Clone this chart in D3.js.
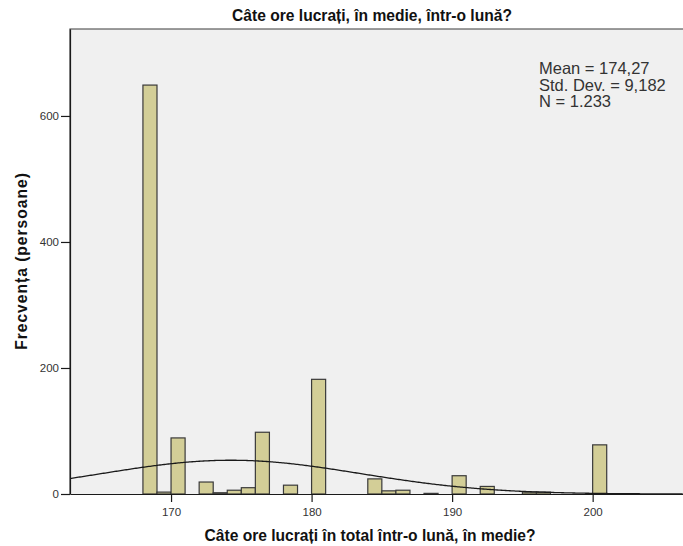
<!DOCTYPE html>
<html>
<head>
<meta charset="utf-8">
<script src="https://cdn.jsdelivr.net/npm/d3@7"></script>
<style>
  html, body { margin: 0; padding: 0; background: #ffffff; }
  svg { display: block; font-family: "Liberation Sans", Arial, sans-serif; }
</style>
</head>
<body>
<svg id="chart" width="683" height="546"></svg>
<script>
// Histogram bins: lower edge of each 1-hour bin and the number of people in it
const binStarts = [168, 169, 170, 172, 173, 174, 175, 176, 178, 180, 184, 185, 186, 188, 190, 192, 195, 196, 200];
const binCounts = [649, 3, 89, 19, 2, 6, 10, 98, 14, 182, 24, 5, 6, 1, 29, 12, 3, 3, 78];
const binWidth = 1;

// Summary statistics shown in the corner and used for the normal curve
const statMean = 174.27;
const statStdDev = 9.182;
const statN = 1233;
const statLines = ["Mean = 174,27", "Std. Dev. = 9,182", "N = 1.233"];

const xTicks = [170, 180, 190, 200];
const yTicks = [0, 200, 400, 600];

const titleText = "Câte ore lucrați, în medie, într-o lună?";
const xLabel = "Câte ore lucrați în total într-o lună, în medie?";
const yLabel = "Frecvența (persoane)";

const svg = d3.select("#chart");
const plot = { left: 70, top: 29, right: 684, bottom: 494 };

const x = d3.scaleLinear().domain([162.81, 206.5]).range([plot.left, plot.right]);
const y = d3.scaleLinear().domain([0, 738]).range([plot.bottom, plot.top]);

// plot background
svg.append("rect")
  .attr("x", plot.left).attr("y", plot.top)
  .attr("width", plot.right - plot.left).attr("height", plot.bottom - plot.top)
  .attr("fill", "#f0f0f0");

const bins = binStarts.map((s, i) => ({ x0: s, x1: s + binWidth, count: binCounts[i] }));

svg.append("g").selectAll("rect")
  .data(bins)
  .join("rect")
  .attr("x", d => x(d.x0))
  .attr("y", d => y(d.count))
  .attr("width", d => x(d.x1) - x(d.x0))
  .attr("height", d => y(0) - y(d.count))
  .attr("fill", "#d3ce97")
  .attr("stroke", "#3a3a3a")
  .attr("stroke-width", 1.2);

// normal curve scaled to counts per bin
const curvePts = d3.range(x.domain()[0], x.domain()[1] + 0.01, 0.1).map(v => {
  const z = (v - statMean) / statStdDev;
  return [v, statN * binWidth / (statStdDev * Math.sqrt(2 * Math.PI)) * Math.exp(-0.5 * z * z)];
});
svg.append("path")
  .datum(curvePts)
  .attr("fill", "none")
  .attr("stroke", "#1a1a1a")
  .attr("stroke-width", 1.3)
  .attr("d", d3.line().x(d => x(d[0])).y(d => y(d[1])));

// frame
svg.append("path")
  .attr("d", `M${plot.right},${plot.top}H${plot.left}V${plot.bottom}`)
  .attr("fill", "none").attr("stroke", "#3a3a3a").attr("stroke-width", 1.2);

// axes
const yAxis = svg.append("g")
  .attr("transform", `translate(${plot.left},0)`)
  .call(d3.axisLeft(y).tickValues(yTicks).tickSize(9).tickSizeOuter(0).tickPadding(2));
const xAxis = svg.append("g")
  .attr("transform", `translate(0,${plot.bottom})`)
  .call(d3.axisBottom(x).tickValues(xTicks).tickSize(8).tickSizeOuter(0).tickPadding(6));
[xAxis, yAxis].forEach(g => {
  g.select(".domain").attr("stroke", "#1a1a1a").attr("stroke-width", 1.2);
  g.selectAll(".tick line").attr("stroke", "#1a1a1a").attr("stroke-width", 1.2);
  g.selectAll(".tick text").attr("fill", "#333").style("font-size", "11.5px")
    .style("font-family", "'Liberation Sans Narrow', 'Liberation Sans', Arial, sans-serif");
});

// stats text
svg.append("text")
  .attr("x", 539).attr("y", 74)
  .attr("fill", "#333").style("font-size", "16.5px")
  .style("font-family", "'Liberation Sans Narrow', 'Liberation Sans', Arial, sans-serif")
  .selectAll("tspan").data(statLines).join("tspan")
  .attr("x", 539).attr("dy", (d, i) => i === 0 ? 0 : 16.5)
  .text(d => d);

// titles
svg.append("text")
  .attr("x", 372).attr("y", 21)
  .attr("text-anchor", "middle")
  .style("font-size", "15.6px").style("font-weight", "bold")
  .attr("fill", "#111")
  .text(titleText);

svg.append("text")
  .attr("x", 370).attr("y", 541)
  .attr("text-anchor", "middle")
  .style("font-size", "15.6px").style("font-weight", "bold")
  .attr("fill", "#111")
  .text(xLabel);

svg.append("text")
  .attr("transform", "translate(27,261) rotate(-90)")
  .attr("text-anchor", "middle")
  .style("font-size", "15.6px").style("font-weight", "bold")
  .style("letter-spacing", "1px")
  .attr("fill", "#111")
  .text(yLabel);
</script>
</body>
</html>
